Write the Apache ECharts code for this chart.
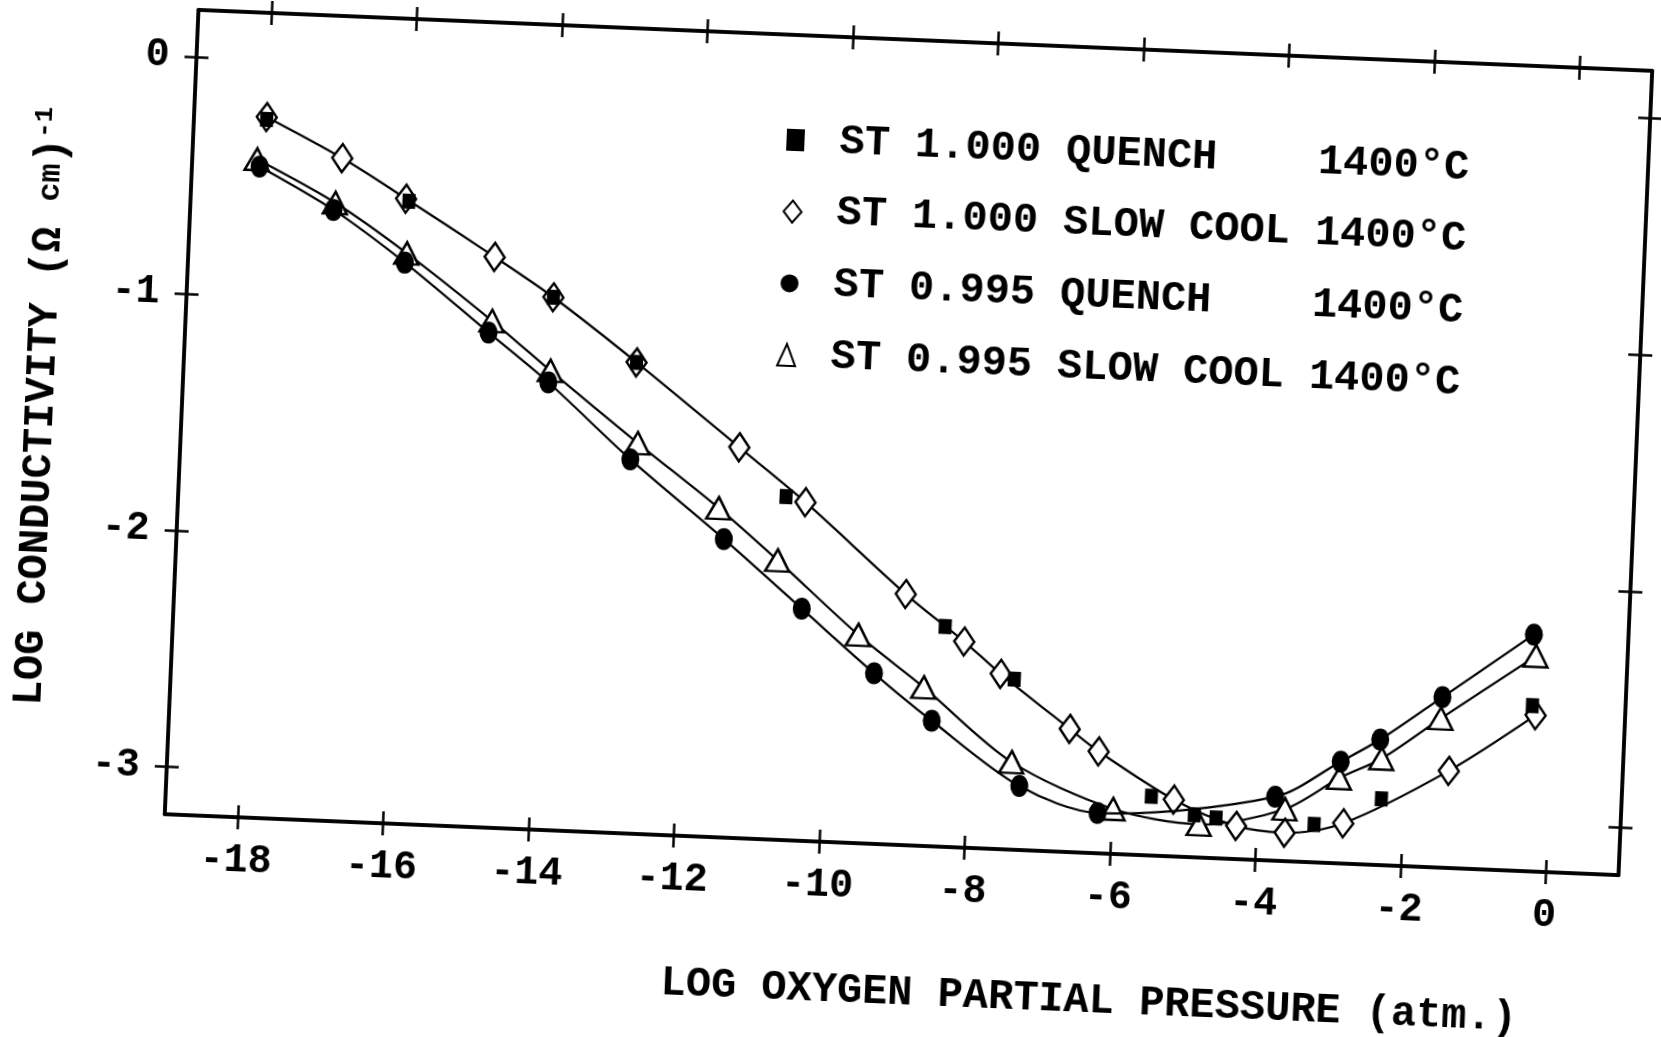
<!DOCTYPE html>
<html>
<head>
<meta charset="utf-8">
<script src="https://cdn.jsdelivr.net/npm/echarts@6/dist/echarts.min.js"></script>
<style>
html, body { margin: 0; padding: 0; background: #fff; overflow: hidden; width: 1661px; height: 1037px; }
/* the scanned figure sits slightly tilted, so the whole chart is turned a little */
#chart { position: absolute; left: 0; top: 0; width: 1661px; height: 1037px;
         transform: rotate(2.4deg); transform-origin: 908px 442px; }
</style>
</head>
<body>
<div id="chart"></div>
<script>
// log pO2 (atm), log conductivity
var st1000Quench = [[-18.0,-0.25],[-16.0,-0.57],[-13.96,-0.95],[-12.78,-1.21],[-10.65,-1.75],[-8.39,-2.27],
    [-7.41,-2.48],[-5.46,-2.95],[-4.86,-3.02],[-4.56,-3.03],[-3.21,-3.04],[-2.30,-2.92],[-0.28,-2.50]];
var st1000Slow = [[-18.0,-0.24],[-16.94,-0.40],[-16.04,-0.56],[-14.79,-0.79],[-13.96,-0.95],[-12.78,-1.21],
    [-11.32,-1.55],[-10.38,-1.77],[-8.95,-2.14],[-8.12,-2.33],[-7.60,-2.46],[-6.62,-2.68],[-6.21,-2.77],
    [-5.15,-2.96],[-4.28,-3.06],[-3.61,-3.08],[-2.81,-3.03],[-1.39,-2.79],[-0.23,-2.54]];
var st995Quench = [[-18.07,-0.45],[-17.03,-0.62],[-16.02,-0.83],[-14.83,-1.11],[-13.98,-1.31],[-12.81,-1.62],
    [-11.48,-1.94],[-10.37,-2.22],[-9.34,-2.48],[-8.52,-2.67],[-7.28,-2.93],[-6.19,-3.03],[-3.76,-2.93],
    [-2.88,-2.77],[-2.35,-2.67],[-1.52,-2.48],[-0.30,-2.20]];
var st995Slow = [[-18.11,-0.42],[-17.01,-0.59],[-16.0,-0.79],[-14.79,-1.06],[-13.96,-1.26],[-12.72,-1.55],
    [-11.57,-1.81],[-10.73,-2.02],[-9.58,-2.32],[-8.65,-2.53],[-7.40,-2.83],[-5.98,-3.01],[-4.79,-3.06],
    [-3.62,-2.98],[-2.89,-2.84],[-2.32,-2.75],[-1.53,-2.57],[-0.26,-2.29]];

var seriesNames = ['ST 1.000 QUENCH    1400°C', 'ST 1.000 SLOW COOL 1400°C',
                   'ST 0.995 QUENCH    1400°C', 'ST 0.995 SLOW COOL 1400°C'];
var xTicks = [-18, -16, -14, -12, -10, -8, -6, -4, -2, 0];
var yTicks = [-3, -2, -1, 0];
var xTitle = 'LOG OXYGEN PARTIAL PRESSURE (atm.)';

var FONT = 'Liberation Mono';
var chart = echarts.init(document.getElementById('chart'));

function xAx(pos, inside, label) {
    return {
        type: 'value', position: pos, min: -19, max: 1,
        splitLine: { show: false },
        axisLine: { show: true, onZero: false, lineStyle: { color: '#000', width: 3.5 } },
        axisTick: { show: true, inside: inside, length: 12, customValues: xTicks, lineStyle: { color: '#000', width: 2.5 } },
        axisLabel: { show: label, customValues: xTicks, margin: 24, fontFamily: FONT, fontSize: 40,
                     fontWeight: 'bold', color: '#000' }
    };
}
function yAx(pos, inside, label) {
    var a = {
        type: 'value', position: pos, min: -3.2, max: 0.2,
        splitLine: { show: false },
        axisLine: { show: true, onZero: false, lineStyle: { color: '#000', width: 3.5 } },
        axisTick: { show: true, inside: inside, length: 12, customValues: yTicks, lineStyle: { color: '#000', width: 2.5 } },
        axisLabel: { show: label, customValues: yTicks, margin: 27, fontFamily: FONT, fontSize: 40,
                     fontWeight: 'bold', color: '#000' }
    };
    if (label) {
        a.name = '{a|LOG CONDUCTIVITY (Ω }{b|cm}{a|)}{s|-1}';
        a.nameLocation = 'middle';
        a.nameGap = 118;
        a.nameTextStyle = {
            rich: {
                a: { fontFamily: FONT, fontSize: 42, fontWeight: 'bold', color: '#000', lineHeight: 44 },
                b: { fontFamily: FONT, fontSize: 32, fontWeight: 'bold', color: '#000', lineHeight: 44 },
                s: { fontFamily: FONT, fontSize: 26, fontWeight: 'bold', color: '#000', lineHeight: 44, verticalAlign: 'top' }
            }
        };
    }
    return a;
}

var openMark = { color: '#fff', borderColor: '#000', borderWidth: 2.5, opacity: 1 };

var option = {
    animation: false,
    backgroundColor: '#fff',
    grid: { left: 181, top: 40, width: 1455, height: 805 },
    xAxis: [xAx('bottom', false, true), xAx('bottom', true, false), xAx('top', false, false), xAx('top', true, false)],
    yAxis: [yAx('left', false, true), yAx('left', true, false), yAx('right', false, false), yAx('right', true, false)],
    legend: {
        orient: 'vertical', left: 768, top: 118, itemWidth: 18, itemHeight: 22, itemGap: 27.7,
        selectedMode: false,
        textStyle: { fontFamily: FONT, fontSize: 42, fontWeight: 'bold', color: '#000', lineHeight: 44,
                     padding: [0, 0, 0, 30] },
        data: [
            { name: seriesNames[0], icon: 'rect' },
            { name: seriesNames[1], icon: 'diamond' },
            { name: seriesNames[2], icon: 'circle' },
            { name: seriesNames[3], icon: 'triangle' }
        ]
    },
    graphic: [{
        type: 'text', x: 1112, y: 993,
        style: { text: xTitle, font: 'bold 42px "Liberation Mono"', fill: '#000',
                 textAlign: 'center', textVerticalAlign: 'middle', align: 'center', verticalAlign: 'middle' }
    }],
    series: [
        {
            name: seriesNames[3], type: 'line', data: st995Slow, smooth: 0.3,
            symbol: 'triangle', symbolSize: [24, 22], itemStyle: openMark,
            lineStyle: { color: '#000', width: 2.2 }, z: 2
        },
        {
            name: seriesNames[2], type: 'line', data: st995Quench, smooth: 0.3,
            symbol: 'circle', symbolSize: [18, 22], itemStyle: { color: '#000', opacity: 1 },
            lineStyle: { color: '#000', width: 2.2 }, z: 3
        },
        {
            name: seriesNames[1], type: 'line', data: st1000Slow, smooth: 0.3,
            symbol: 'diamond', symbolSize: [20, 28], itemStyle: openMark,
            lineStyle: { color: '#000', width: 2.2 }, z: 2
        },
        {
            name: seriesNames[0], type: 'scatter', data: st1000Quench,
            symbol: 'rect', symbolSize: [13, 15], itemStyle: { color: '#000', opacity: 1 }, z: 4
        }
    ]
};
chart.setOption(option);
</script>
</body>
</html>
